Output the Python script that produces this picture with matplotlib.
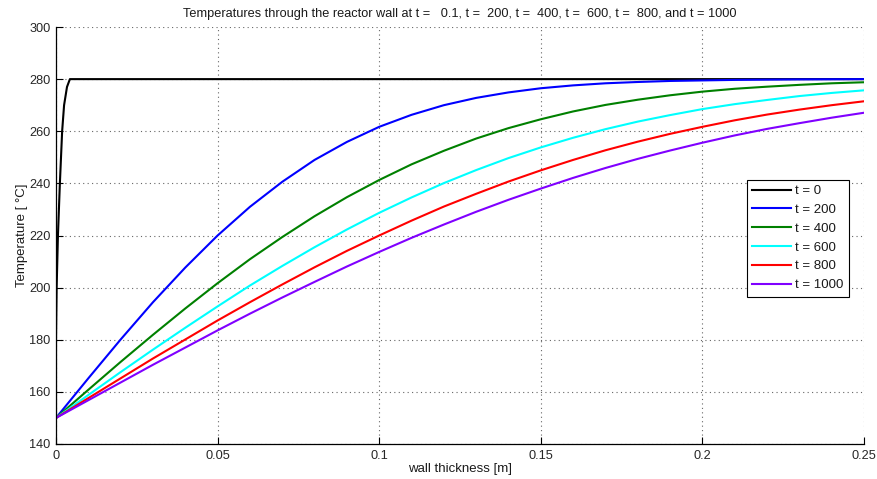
import matplotlib.pyplot as plt

plt.rcParams['font.family'] = ['Liberation Sans', 'DejaVu Sans']

# wall position [m] for the smooth profiles
x = [0.00, 0.01, 0.02, 0.03, 0.04, 0.05, 0.06, 0.07, 0.08, 0.09, 0.10, 0.11, 0.12,
     0.13, 0.14, 0.15, 0.16, 0.17, 0.18, 0.19, 0.20, 0.21, 0.22, 0.23, 0.24, 0.25]

# t = 0 profile (steep near the surface)
x_t0 = [0.0, 0.0, 0.0002, 0.0006, 0.0012, 0.0019, 0.0025, 0.0034, 0.0043, 0.0050, 0.25]
T_t0 = [150, 180, 200, 220, 240, 260, 270, 277, 280, 280, 280]

T_200 = [150, 165.2, 180.1, 194.4, 207.7, 220.0, 231.0, 240.6, 249.0, 255.9, 261.7, 266.3, 270.0,
         272.8, 274.9, 276.5, 277.6, 278.4, 278.9, 279.3, 279.5, 279.7, 279.8, 279.9, 279.95, 280.0]
T_400 = [150, 160.8, 171.5, 181.9, 192.0, 201.7, 210.9, 219.4, 227.4, 234.7, 241.3, 247.3, 252.5,
         257.2, 261.2, 264.6, 267.6, 270.1, 272.1, 273.8, 275.2, 276.3, 277.1, 277.8, 278.4, 278.8]
T_600 = [150, 158.8, 167.6, 176.2, 184.6, 192.8, 200.8, 208.3, 215.5, 222.3, 228.7, 234.6, 240.1,
         245.1, 249.7, 253.8, 257.5, 260.8, 263.7, 266.2, 268.5, 270.4, 272.0, 273.5, 274.7, 275.7]
T_800 = [150, 157.6, 165.2, 172.8, 180.1, 187.4, 194.4, 201.2, 207.8, 214.1, 220.0, 225.7, 231.1,
         236.0, 240.7, 245.0, 249.0, 252.7, 256.0, 259.0, 261.7, 264.2, 266.4, 268.3, 270.0, 271.5]
T_1000 = [150, 156.8, 163.6, 170.4, 177.0, 183.6, 190.0, 196.2, 202.2, 208.1, 213.7, 219.1, 224.2,
          229.1, 233.7, 238.0, 242.1, 245.9, 249.4, 252.6, 255.6, 258.4, 260.9, 263.1, 265.2, 267.1]

labels = ['t = 0', 't = 200', 't = 400', 't = 600', 't = 800', 't = 1000']
colors = ['black', '#0000ff', '#008000', '#00ffff', '#ff0000', '#8000ff']

xticks = [0, 0.05, 0.1, 0.15, 0.2, 0.25]
xticklabels = ['0', '0.05', '0.1', '0.15', '0.2', '0.25']
yticks = [140, 160, 180, 200, 220, 240, 260, 280, 300]

fig = plt.figure(figsize=(8.78, 4.79), dpi=100)
ax = fig.add_axes([56 / 878, 1 - 444 / 479, 808 / 878, 417 / 479])

lw = 1.5
ax.plot(x_t0, T_t0, color=colors[0], lw=lw, label=labels[0])
for T, c, lab in zip([T_200, T_400, T_600, T_800, T_1000], colors[1:], labels[1:]):
    ax.plot(x, T, color=c, lw=lw, label=lab, solid_joinstyle='round')

ax.set_xlim(0, 0.25)
ax.set_ylim(140, 300)
ax.set_xticks(xticks)
ax.set_xticklabels(xticklabels)
ax.set_yticks(yticks)
ax.tick_params(direction='in', length=5, labelsize=9.2, colors='black', labelcolor='0.15', pad=4)
ax.grid(True, linestyle=(0, (1, 3)), color='0.4', lw=0.8)
for s in ['top', 'right']:
    ax.spines[s].set_visible(False)
for s in ['left', 'bottom']:
    ax.spines[s].set_linewidth(0.9)

ax.set_title('Temperatures through the reactor wall at t =   0.1, t =  200, t =  400, t =  600, t =  800, and t = 1000',
             fontsize=9.2, pad=7, color='0.1')
ax.set_xlabel('wall thickness [m]', fontsize=9.5, labelpad=1, color='0.1')
ax.set_ylabel('Temperature [ °C]', fontsize=9.5, labelpad=1, color='0.1')

leg = ax.legend(loc='upper right', bbox_to_anchor=(0.981, 0.634), borderaxespad=0,
                fontsize=9.5, handlelength=2.95, labelspacing=0.5, handletextpad=0.3,
                fancybox=False, framealpha=1, borderpad=0.4)
leg.get_frame().set_edgecolor('black')
leg.get_frame().set_linewidth(0.8)
for t in leg.get_texts():
    t.set_color('0.1')

fig.savefig('out.png', dpi=100)
